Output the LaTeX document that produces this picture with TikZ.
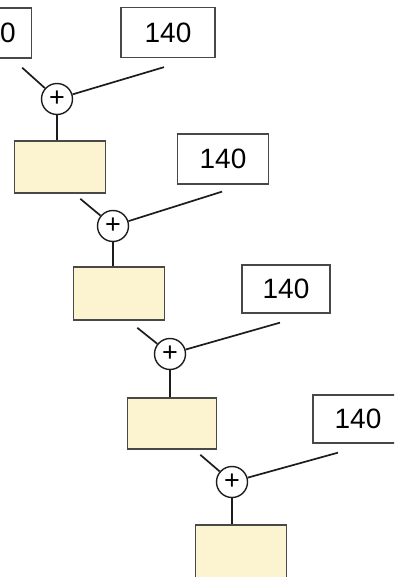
\documentclass[tikz,border=0pt]{standalone}
\usepackage{fontspec}
\setmainfont{Liberation Sans}
\usetikzlibrary{positioning, calc}
\definecolor{cream}{RGB}{252, 244, 208}
\definecolor{edgegray}{RGB}{72, 72, 72}
\definecolor{wireblack}{RGB}{28, 28, 28}

\begin{document}
\begin{tikzpicture}[
    x=1pt, y=-1pt,
    cell/.style={rectangle, draw=edgegray, fill=cream, line width=1.6pt,
        minimum width=91pt, minimum height=52pt, inner sep=0pt},
    weight/.style={rectangle, draw=edgegray, fill=white, line width=1.3pt,
        minimum width=91pt, minimum height=50pt, inner sep=0pt,
        font=\fontsize{28}{30}\selectfont},
    adder/.style={circle, draw=wireblack, fill=white, line width=1.4pt,
        minimum size=31pt, inner sep=0pt, font=\fontsize{27}{27}\selectfont},
    wire/.style={line width=1.7pt, wireblack}
]
    \path[use as bounding box, clip] (0,0) rectangle (394,577);

    % weights
    \node[weight] (w0) at (-14,33) {\hspace{44pt}0};
    \node[weight, minimum width=94pt] (w1) at (168,32.5) {140};
    \node[weight] (w2) at (223,159) {140};
    \node[weight, minimum width=88pt, minimum height=48pt] (w3) at (286,289) {140};
    \node[weight, minimum width=90pt, minimum height=48pt] (w4) at (358,419) {140};

    % adders
    \node[adder] (sum1) at (57,99) {+};
    \node[adder] (sum2) at (113,226) {+};
    \node[adder] (sum3) at (170,354) {+};
    \node[adder] (sum4) at (232,482) {+};

    % cells
    \node[cell, below=25pt of sum1, xshift=3pt] (box1) {};
    \node[cell, below=24pt of sum2, xshift=6pt, minimum height=53pt] (box2) {};
    \node[cell, below=27pt of sum3, xshift=2pt, minimum width=89pt, minimum height=51pt] (box3) {};
    \node[cell, below=26pt of sum4, xshift=9pt, minimum height=53pt] (box4) {};

    % wires
    \draw[wire] ($(w0.south east)+(-10,9)$) -- (sum1);
    \draw[wire] (sum1) -- ($(w1.south)+(-4,9)$);
    \draw[wire] (sum1) -- (sum1 |- box1.north);

    \draw[wire] ($(box1.south east)+(-26,5)$) -- (sum2);
    \draw[wire] (sum2) -- ($(w2.south)+(-1,7)$);
    \draw[wire] (sum2) -- (sum2 |- box2.north);

    \draw[wire] ($(box2.south east)+(-28,7)$) -- (sum3);
    \draw[wire] (sum3) -- ($(w3.south)+(-6,9)$);
    \draw[wire] (sum3) -- (sum3 |- box3.north);

    \draw[wire] ($(box3.south east)+(-17,5)$) -- (sum4);
    \draw[wire] (sum4) -- ($(w4.south)+(-20,9)$);
    \draw[wire] (sum4) -- (sum4 |- box4.north);
\end{tikzpicture}
\end{document}
